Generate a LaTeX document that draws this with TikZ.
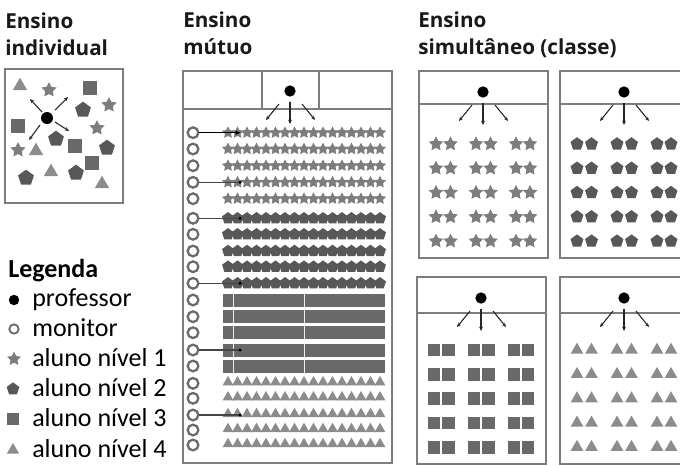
\documentclass[tikz,border=0pt]{standalone}
\usepackage{fontspec}
\setmainfont{Carlito}
\newfontfamily\titlefont{Open Sans}
\usetikzlibrary{
  arrows.meta,
  shapes.geometric,
  calc
}
\definecolor{framegray}{RGB}{125,125,125}
\definecolor{stargray}{RGB}{125,125,125}
\definecolor{pentgray}{RGB}{88,88,88}
\definecolor{sqgray}{RGB}{105,105,105}
\definecolor{trigray}{RGB}{140,140,140}
\definecolor{linkgray}{RGB}{70,70,70}
\definecolor{inkblack}{RGB}{25,25,25}

\tikzset{
  title/.style={anchor=base west, inner sep=0pt, inkblack,
    font=\titlefont\bfseries\fontsize{15.5}{20}\selectfont},
  legtext/.style={anchor=base west, inner sep=0pt,
    font=\fontsize{19.5}{23}\selectfont},
  prof/.style={circle, fill=black, inner sep=0pt, minimum size=#1},
  prof/.default=8.5pt,
  mon/.style={circle, draw=framegray!85!black, line width=1.7pt, inner sep=0pt, minimum size=#1},
  mon/.default=8pt,
  lvlone/.style={star, star points=5, star point ratio=2.0, fill=stargray,
    inner sep=0pt, minimum size=#1},
  lvlone/.default=9.6pt,
  lvltwo/.style={regular polygon, regular polygon sides=5, fill=pentgray,
    inner sep=0pt, minimum size=#1},
  lvltwo/.default=9.4pt,
  lvlthree/.style={rectangle, fill=sqgray, inner sep=0pt, minimum size=#1},
  lvlthree/.default=9pt,
  lvlfour/.style={regular polygon, regular polygon sides=3, fill=trigray,
    inner sep=0pt, minimum size=#1},
  lvlfour/.default=9.4pt,
  room/.style={draw=framegray, line width=1.6pt},
  ray/.style={-{Stealth[length=3.2pt, width=2.8pt]}, line width=0.8pt, black!85},
  link/.style={linkgray, line width=0.8pt}
}

\begin{document}
\begin{tikzpicture}[x=0.75pt, y=-0.75pt]
  \useasboundingbox (0,0) rectangle (680,465);
  \clip (0,0) rectangle (680,465);

  % titles
  \node[title] (t-ind1) at (5,28) {Ensino};
  \node[title] (t-ind2) at (5,55) {individual};
  \node[title] (t-mut1) at (183,27) {Ensino};
  \node[title] (t-mut2) at (183,54) {mútuo};
  \node[title] (t-sim1) at (418,27) {Ensino};
  \node[title] (t-sim2) at (418,54) {simultâneo (classe)};

  % ensino individual
  \draw[room, line width=1.8pt] (5,69) rectangle (123,203);
  \node[prof=9pt] (p-ind) at (47,118) {};
  \foreach \dx/\dy/\ex/\ey in {-5/-6/-17/-19, 8/-8/21/-21, 8/4/22/13, -7/7/-18/22}
    \draw[ray] ($(p-ind)+(\dx,\dy)$) -- ($(p-ind)+(\ex,\ey)$);
  \foreach \x/\y [count=\i] in {49/90, 109/105, 97/128, 18/150}
    \node[lvlone=12pt] (i1-\i) at (\x,\y) {};
  \foreach \x/\y [count=\i] in {83/110, 56/139, 107/148, 26/178, 76/173}
    \node[lvltwo=12.5pt] (i2-\i) at (\x,\y) {};
  \foreach \x/\y [count=\i] in {90/88, 18/126, 75/146, 92/163}
    \node[lvlthree=10pt] (i3-\i) at (\x,\y) {};
  \foreach \x/\y [count=\i] in {20/86, 36/151, 51/172, 102/184}
    \node[lvlfour=12.5pt] (i4-\i) at (\x,\y) {};

  % ensino mutuo
  \draw[room] (183,71) rectangle (392,463);
  \draw[room] (183,109) -- (392,109) (262,71) -- (262,109) (319,71) -- (319,109);
  \node[prof] (p-mut) at (290,91) {};
  \draw[ray] ($(p-mut)+(-11,13)$) -- ($(p-mut)+(-24,29)$);
  \draw[ray] ($(p-mut)+(0,11)$) -- ($(p-mut)+(0,33)$);
  \draw[ray] ($(p-mut)+(12,13)$) -- ($(p-mut)+(25,29)$);
  \foreach \y [count=\i] in {132.7,149,165.7,182.3,198.7,218.3,234.3,251,266.7,283.3,
                             300,316.7,332.7,350,366,383.3,398.3,415,430,445}
    \node[mon] (mon\i) at (193,\y) {};
  \foreach \y [count=\i] in {132.7,149,165.7,182.3,198.7}
    \foreach \k in {0,...,16}
      \node[lvlone] (m1-\i-\k) at (228+9.5*\k,\y) {};
  \foreach \y [count=\i] in {218.3,234.3,251,266.7,283.3}
    \foreach \k in {0,...,16}
      \node[lvltwo] (m2-\i-\k) at (228+9.5*\k,\y) {};
  \foreach \y in {300,316.7,332.7,350,366} {
    \fill[sqgray] (223,\y-6.5) rectangle (385,\y+6.5);
    \draw[white!85!gray, line width=0.6pt] (233,\y-6.5) -- (233,\y+6.5) (304,\y-6.5) -- (304,\y+6.5);
  }
  \foreach \y [count=\i] in {383.3,398.3,415,430,445}
    \foreach \k in {0,...,16}
      \node[lvlfour] (m4-\i-\k) at (228+9.5*\k,\y-1) {};
  % monitors to their rows
  \coordinate (lk1) at ($(mon1)+(48,0)$);
  \draw[link, black, -{Latex[length=4pt, width=3.5pt]}] (mon1) -- (lk1);
  \foreach \i in {4,6,10,14,18} {
    \coordinate (lk\i) at ($(mon\i)+(47,0)$);
    \draw[link] (mon\i) -- (lk\i);
    \fill (lk\i) circle (1.3pt);
  }

  % ensino simultaneo
  \foreach \bx/\by/\hy/\nm/\lvl/\sz in {419/71/33/a/lvlone/11.5pt, 560/71/33/b/lvltwo/10.2pt,
                                       417/277/36/c/lvlthree/9.5pt, 560/277/36/d/lvlfour/11pt} {
    \draw[room] (\bx,\by) rectangle ++(129,187);
    \draw[room] (\bx,\by+\hy) -- ++(129,0);
    \node[prof] (p-\nm) at (\bx+64,\by+21) {};
    \draw[ray] ($(p-\nm)+(-11,13)$) -- ($(p-\nm)+(-24,29)$);
    \draw[ray] ($(p-\nm)+(0,11)$) -- ($(p-\nm)+(0,33)$);
    \draw[ray] ($(p-\nm)+(12,13)$) -- ($(p-\nm)+(25,29)$);
    \foreach \cx [count=\c] in {17,31.5,57,71.5,97,111}
      \foreach \r in {0,...,4}
        \node[\lvl, minimum size=\sz] (\nm\c-\r) at (\bx+\cx,\by+73+24.3*\r) {};
  }

  % legenda
  \node[legtext, font=\bfseries\fontsize{19.5}{23}\selectfont] (leg) at (8,277) {Legenda};
  \node[prof=7.8pt] (leg-p) at (14,300) {};
  \node[legtext] (leg-pt) at (32,306) {professor};
  \node[mon=7pt, line width=1.4pt] (leg-m) at (14,329) {};
  \node[legtext] (leg-mt) at (32,336) {monitor};
  \node[lvlone=11pt] (leg-1) at (14,359) {};
  \node[legtext] (leg-1t) at (32,366) {aluno nível 1};
  \node[lvltwo=10pt] (leg-2) at (13,389) {};
  \node[legtext] (leg-2t) at (32,396) {aluno nível 2};
  \node[lvlthree=9pt] (leg-3) at (13,419) {};
  \node[legtext] (leg-3t) at (32,426) {aluno nível 3};
  \node[lvlfour=10.5pt] (leg-4) at (13,450) {};
  \node[legtext] (leg-4t) at (32,457) {aluno nível 4};
\end{tikzpicture}
\end{document}
